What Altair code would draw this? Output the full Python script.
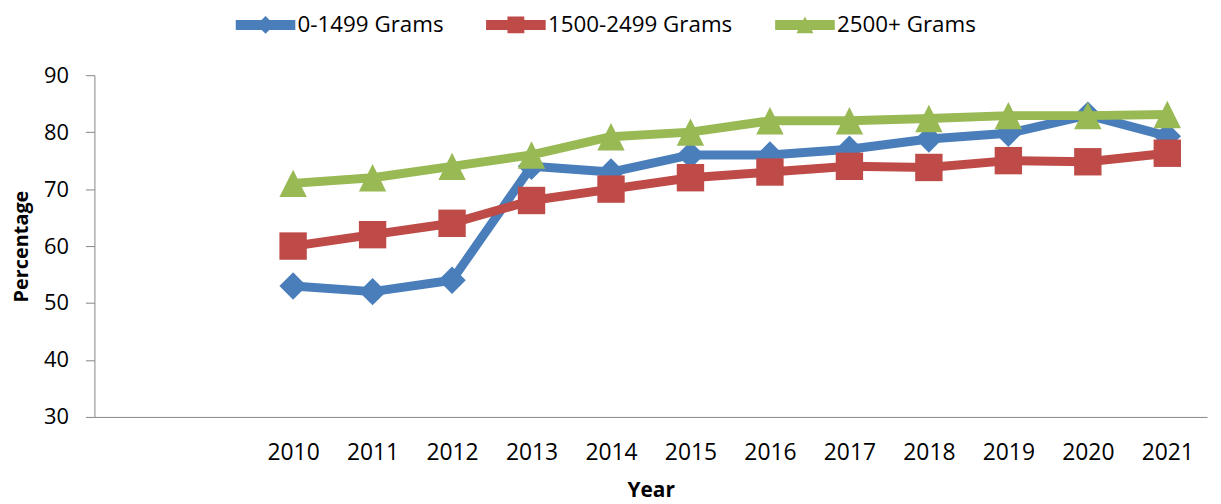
import altair as alt
import pandas as pd

# ---- data ----
years = ["2010", "2011", "2012", "2013", "2014", "2015",
         "2016", "2017", "2018", "2019", "2020", "2021"]
blank_slots = [" ", "  "]          # two empty category slots before 2010
series_names = ["0-1499 Grams", "1500-2499 Grams", "2500+ Grams"]
vals_0_1499 = [53, 52, 54, 74, 73, 76, 76, 77, 78.8, 79.8, 83, 79.3]
vals_1500_2499 = [60, 62, 64, 68, 70, 72, 73, 74, 73.8, 75, 74.8, 76.3]
vals_2500_plus = [71, 72, 74, 76, 79.2, 80, 82, 82, 82.4, 82.9, 82.9, 83.1]
y_ticks = [30, 40, 50, 60, 70, 80, 90]

# ---- styling ----
colors = ["#4A7EBB", "#BE4B48", "#98B954"]
marker_shapes = ["diamond", "square", "M0,-1L1,1L-1,1Z"]
legend_paths = [
    "M-3,-0.5L3,-0.5L3,0.5L-3,0.5Z M0,-0.9L0.9,0L0,0.9L-0.9,0Z",
    "M-3,-0.5L3,-0.5L3,0.5L-3,0.5Z M-0.85,-0.85L0.85,-0.85L0.85,0.85L-0.85,0.85Z",
    "M-3,-0.5L3,-0.5L3,0.5L-3,0.5Z M0,-0.85L0.85,0.85L-0.85,0.85Z",
]
FONT = "Open Sans"

rows = []
for name, vals in zip(series_names, [vals_0_1499, vals_1500_2499, vals_2500_plus]):
    for yr, v in zip(years, vals):
        rows.append({"year": yr, "value": v, "series": name})
df = pd.DataFrame(rows)

x_domain = blank_slots + years
x_enc = alt.X(
    "year:O",
    scale=alt.Scale(type="point", domain=x_domain, padding=0.5),
    axis=alt.Axis(
        title="Year", labelAngle=0, ticks=False, tickSize=0,
        labelFont=FONT, labelFontSize=23, labelColor="#000000",
        labelPadding=36, labelBaseline="middle",
        titleFont=FONT, titleFontSize=21, titleFontWeight="bold", titleColor="#000000",
        titleY=80, titleBaseline="alphabetic",
        domainColor="#868686", domainWidth=1, grid=False,
    ),
)
y_enc = alt.Y(
    "value:Q",
    scale=alt.Scale(domain=[30, 90], nice=False, zero=False),
    axis=alt.Axis(
        title="Percentage", values=y_ticks, grid=False,
        tickColor="#868686", tickSize=9, tickWidth=1,
        domainColor="#868686", domainWidth=1,
        labelFont=FONT, labelFontSize=22, labelColor="#000000", labelPadding=17,
        titleFont=FONT, titleFontSize=20, titleFontWeight="bold", titleColor="#000000",
        titleAngle=-90, titleX=-67, titleY=172, titleAlign="center", titleBaseline="alphabetic",
    ),
)
color_enc = alt.Color("series:N", scale=alt.Scale(domain=series_names, range=colors), legend=None)
shape_enc = alt.Shape("series:N", scale=alt.Scale(domain=series_names, range=marker_shapes), legend=None)

layers = []
base = alt.Chart(df)
for name in series_names:
    sub = base.transform_filter(alt.datum.series == name)
    layers.append(
        sub.mark_line(strokeWidth=9, strokeJoin="round", strokeCap="round").encode(
            x=x_enc, y=y_enc, color=color_enc
        )
    )
    layers.append(
        sub.mark_point(filled=True, opacity=1, size=760).encode(
            x=x_enc, y=y_enc, color=color_enc, shape=shape_enc
        )
    )

legend_opts = dict(
    title=None, orient="none", legendX=161, legendY=-62,
    direction="horizontal", columnPadding=42, labelOffset=21,
    symbolSize=400, symbolOpacity=1, symbolStrokeWidth=0,
    labelFont=FONT, labelFontSize=22.5, labelColor="#000000", labelLimit=400,
    padding=0,
)
legend_layer = base.mark_point(filled=True, opacity=0).encode(
    x=x_enc, y=y_enc,
    shape=alt.Shape(
        "series:N",
        scale=alt.Scale(domain=series_names, range=legend_paths),
        legend=alt.Legend(**legend_opts),
    ),
    fill=alt.Fill(
        "series:N",
        scale=alt.Scale(domain=series_names, range=colors),
        legend=alt.Legend(**legend_opts),
    ),
)

chart = (
    alt.layer(*layers, legend_layer)
    .resolve_scale(shape="independent", fill="independent")
    .properties(
        width=1120, height=344,
        autosize=alt.AutoSizeParams(type="none"),
        padding={"left": 87, "top": 66, "right": 6, "bottom": 86},
        background="#ffffff",
    )
    .configure_view(stroke=None)
)

chart.save("out.html", embed_options={"renderer": "svg", "actions": False})
